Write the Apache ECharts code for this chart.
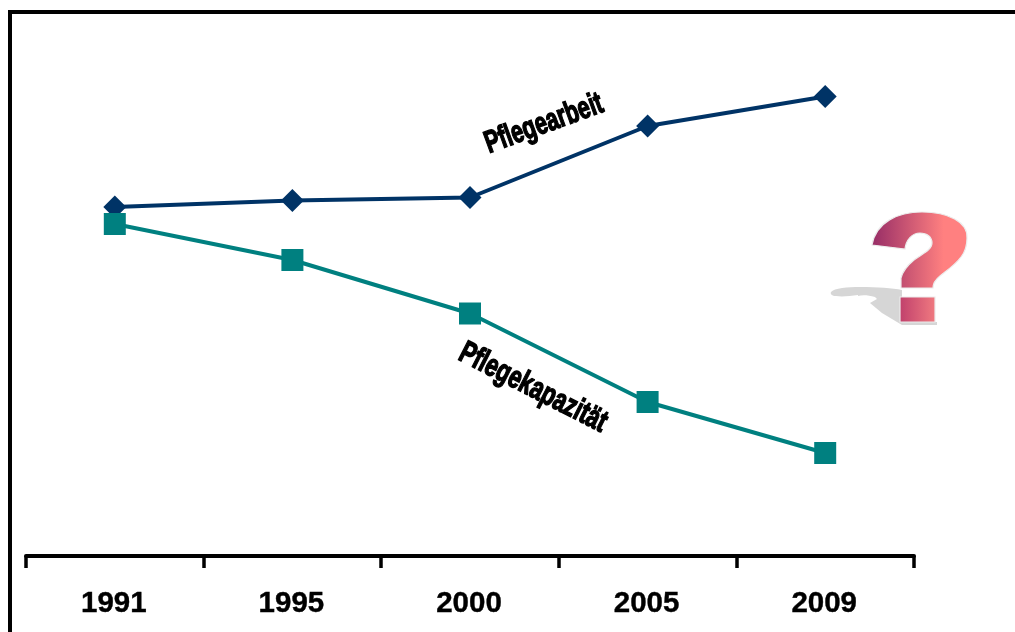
<!DOCTYPE html>
<html><head><meta charset="utf-8">
<style>html,body{margin:0;padding:0;background:#fff}#c{width:1015px;height:632px}</style>
<script src="https://cdn.jsdelivr.net/npm/echarts@6/dist/echarts.min.js"></script>
</head><body><div id="c"></div>
<script>
const years = ['1991','1995','2000','2005','2009'];
const pflegearbeit = [69.8,71.1,71.7,86,91.9];
const pflegekapazitaet = [66.4,59.2,48.5,30.8,20.6];

echarts.graphic.registerShape('qShadow', echarts.graphic.extendPath('M831 292 C834 288 848 287 860 287 C878 287 892 288 902 290 L902 320 L937 322 L937 325 L902 325 L882 313 L870 303 L877 299 L875 297 C868 295 862 295 858 296 L858 295 C850 296 842 297 836 296 C832 296 830 294 831 292 Z',{}));
echarts.graphic.registerShape('qMark', echarts.graphic.extendPath('M872 245 C876 222 898 212 922 212 C948 212 968 222 967 238 C967 246 965 252 961 257 C955 265 946 271 940 276 C935 280 933 284 933 288 L901 288 L901 278 C903 270 908 265 914 260 C922 254 932 250 932 243 C932 237 927 233 920 233 C912 233 906 240 905 249 Z',{}));

const chart = echarts.init(document.getElementById('c'),null,{renderer:'canvas'});
const qGrad = {type:'linear',x:0,y:0,x2:1,y2:0,colorStops:[{offset:0,color:'#962c66'},{offset:0.75,color:'#ff8080'},{offset:1,color:'#ff8080'}]};
const dotGrad = {type:'linear',x:0,y:0,x2:1,y2:0,colorStops:[{offset:0,color:'#c0406c'},{offset:1,color:'#f07a80'}]};
const label = (text,x,y,deg,sx)=>({type:'text',x,y,rotation:deg*Math.PI/180,scaleX:sx,scaleY:1.05,z:5,
  style:{text,fill:'#000',stroke:'#000',lineWidth:1.4,font:'bold 30px "Liberation Sans",sans-serif',align:'center',verticalAlign:'middle'}});
chart.setOption({
  animation:false,
  backgroundColor:'#fff',
  grid:{left:26,right:101,top:56,bottom:76,containLabel:false},
  xAxis:{type:'category',data:years,boundaryGap:true,
    axisLine:{lineStyle:{color:'#000',width:4}},
    axisTick:{show:true,length:12,lineStyle:{color:'#000',width:3.5}},
    axisLabel:{color:'#000',fontFamily:'"Liberation Sans",Arial,sans-serif',fontWeight:'bold',fontSize:29.5,margin:33,
      padding:[0,2,0,0],textBorderColor:'#000',textBorderWidth:0.4}},
  yAxis:{type:'value',min:0,max:100,show:false,splitLine:{show:false}},
  series:[
    {name:'Pflegearbeit',type:'line',data:pflegearbeit,symbol:'diamond',symbolSize:23,
      lineStyle:{color:'#003366',width:4},itemStyle:{color:'#003366'}},
    {name:'Pflegekapazität',type:'line',data:pflegekapazitaet,symbol:'rect',symbolSize:22,
      lineStyle:{color:'#008080',width:4},itemStyle:{color:'#008080'}}
  ],
  graphic:[
    {type:'polyline',z:1,shape:{points:[[10,640],[10,12],[1020,12]]},style:{stroke:'#000',lineWidth:4,fill:null}},
    label('Pflegearbeit',544,124,20,0.72),
    label('Pflegekapazität',533,388,-27,0.74),
    {type:'qShadow',z:2,style:{fill:'#d6d6d6',stroke:null}},
    {type:'qMark',z:3,style:{fill:qGrad,stroke:'#ececec',lineWidth:1.2}},
    {type:'rect',z:3,shape:{x:900,y:297,width:35,height:25},style:{fill:dotGrad,stroke:'#ececec',lineWidth:1.2}}
  ]
});
</script></body></html>
